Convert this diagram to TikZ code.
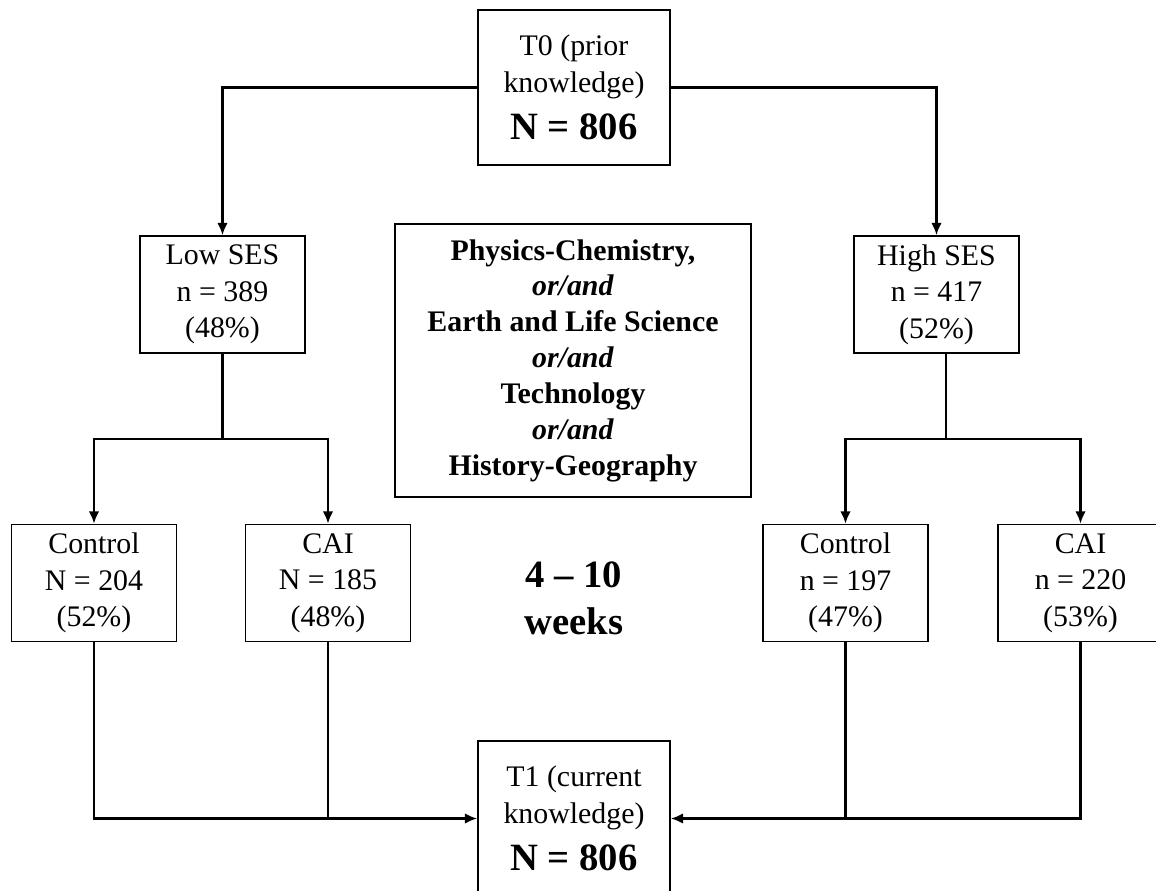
\documentclass[tikz,border=0pt]{standalone}
\usepackage{fontspec}
\setmainfont{Liberation Serif}
\usetikzlibrary{arrows.meta,positioning}

\newcommand{\bigtxt}[1]{{\fontsize{22}{26}\selectfont\bfseries #1}}

\begin{document}
\begin{tikzpicture}[x=0.02cm, y=-0.02cm,
    box/.style={draw, line width=0.9pt, inner sep=0pt, align=center,
      minimum width=3.3cm, minimum height=2.34cm,
      font=\fontsize{17}{20.8}\selectfont},
    timebox/.style={box, minimum width=3.84cm, minimum height=3.1cm},
    link/.style={line width=1.3pt},
    arr/.style={link, -{Latex[length=7pt,width=6pt]}}]

              % Frame
              \useasboundingbox (0,0) rectangle (1156,891);

              % Test points
              \node[timebox] (t0) at (574,87.5)
                {T0 (prior\\knowledge)\\[6pt]\bigtxt{N = 806}};
              \node[timebox] (t1) at (574,818.5)
                {T1 (current\\knowledge)\\[6pt]\bigtxt{N = 806}};

              % SES groups
              \node[box] (low) at (222.5,294.5) {Low SES\\n = 389\\(48\%)};
              \node[box] (high) at (936.5,294.5) {High SES\\n = 417\\(52\%)};

              % conditions
              \node[box] (ctrlL) at (94,583) {Control\\N = 204\\(52\%)};
              \node[box] (caiL) at (328,583) {CAI\\N = 185\\(48\%)};
              \node[box] (ctrlR) at (845.5,583) {Control\\n = 197\\(47\%)};
              \node[box] (caiR) at (1080.5,583) {CAI\\n = 220\\(53\%)};

              % subjects and duration
              \node[box, minimum width=7.12cm, minimum height=5.46cm,
                font=\fontsize{17}{20.4}\selectfont\bfseries] (subj) at (573,360.5)
                {Physics-Chemistry,\\\textit{or/and}\\Earth and Life Science\\
                 \textit{or/and}\\Technology\\\textit{or/and}\\History-Geography};
              \node[align=center, font=\fontsize{22}{26.7}\selectfont\bfseries]
                (weeks) at (574,598) {4 -- 10\\weeks};

              % split points
              \coordinate (lsplit) at (222.5,439);
              \coordinate (hsplit) at (946,439);

              % connectors
              \draw[arr] (t0.west) -| (low.north);
              \draw[arr] (t0.east) -| (high.north);
              \draw[link] (low.south) -- (lsplit);
              \draw[arr] (lsplit) -| (ctrlL.north);
              \draw[arr] (lsplit) -| (caiL.north);
              \draw[link] (hsplit |- high.south) -- (hsplit);
              \draw[arr] (hsplit) -| (ctrlR.north);
              \draw[arr] (hsplit) -| (caiR.north);
              \draw[arr] (ctrlL.south) |- (t1.west);
              \draw[link] (caiL.south) -- (caiL.south |- t1.west);
              \draw[arr] (caiR.south) |- (t1.east);
              \draw[link] (ctrlR.south) -- (ctrlR.south |- t1.east);
        \end{tikzpicture}
\end{document}
